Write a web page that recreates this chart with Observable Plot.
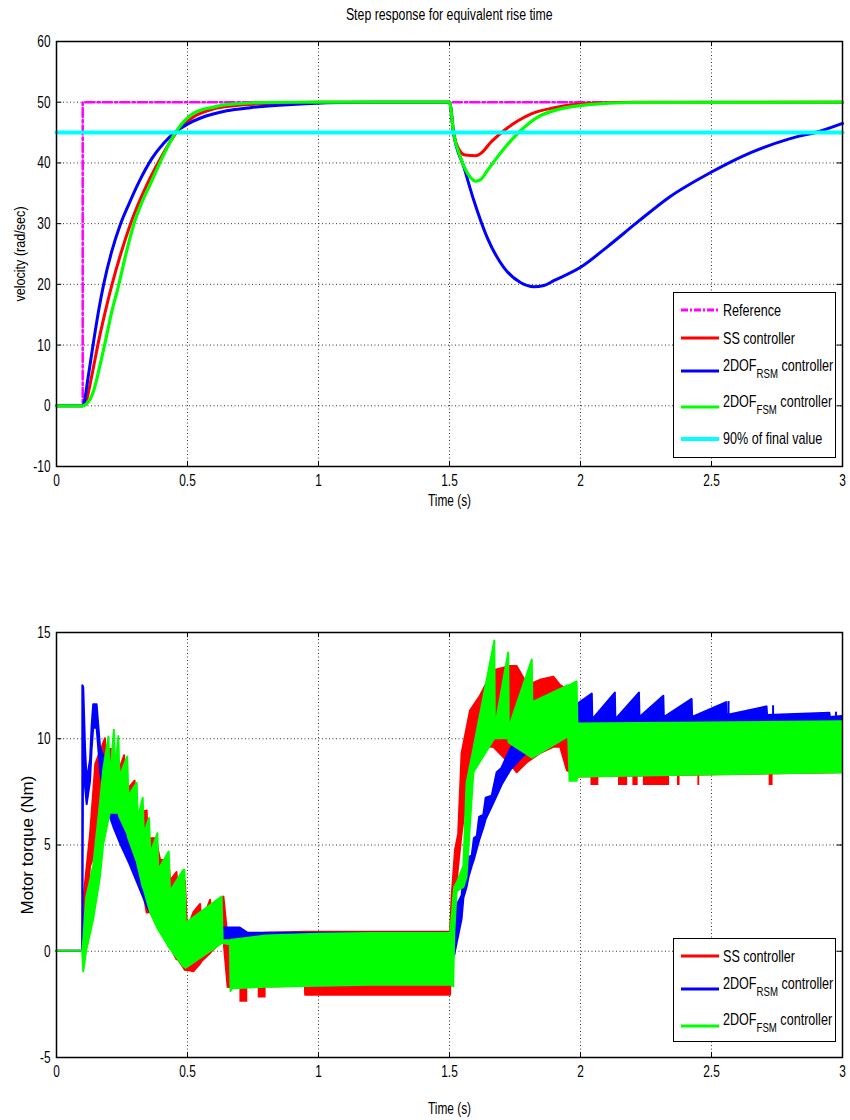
<!DOCTYPE html>
<html><head><meta charset="utf-8">
<script src="https://cdn.jsdelivr.net/npm/d3@7"></script>
<script src="https://cdn.jsdelivr.net/npm/@observablehq/plot@0.6"></script>
<style>
body{margin:0;background:#fff;}
#root{position:relative;width:850px;height:1120px;overflow:hidden;font-family:"Liberation Sans",Arial,sans-serif;}
.ttl{position:absolute;left:0;width:898px;text-align:center;font-size:16px;line-height:16px;}
.ttl span{display:inline-block;transform:scaleX(0.77);transform-origin:center;}
.legend{position:absolute;border:1.5px solid #000;background:#fff;box-sizing:border-box;}
.li{position:absolute;font-size:17px;white-space:nowrap;line-height:17px;transform:scaleX(0.74);transform-origin:left center;}
.li sub{font-size:13px;vertical-align:-7px;line-height:0;}
.sw{position:absolute;}
</style></head><body><div id="root"></div>
<script>
const FONT = '"Liberation Sans",Arial,sans-serif';

// ---------- shared ticks ----------
const timeTicks = [0, 0.5, 1, 1.5, 2, 2.5, 3];
const velocityTicks = [-10, 0, 10, 20, 30, 40, 50, 60];
const torqueTicks = [-5, 0, 5, 10, 15];

// ---------- top panel: velocity (t, rad/sec) ----------
const referenceVel = [[0,0],[0.1,0],[0.1,50],[3,50]];
const finalValue90 = [[0,45],[3,45]];
const ssVel = [[0,0],[0.1,0],[0.114,0.9],[0.135,5],[0.161,10.7],[0.185,15.3],[0.212,20],[0.245,25],[0.282,29.9],[0.346,36.5],[0.39,40.2],[0.42,42.5],[0.454,44.8],[0.524,47.6],[0.6,48.9],[0.676,49.4],[0.8,49.8],[1.0,50],[1.5,50],[1.516,44.8],[1.535,42.3],[1.56,41.3],[1.6,41.2],[1.62,41.6],[1.66,43.5],[1.707,45.3],[1.76,46.9],[1.81,48.05],[1.9,49.1],[2.0,49.7],[2.2,50],[3,50]];
const rsmVel = [[0,0],[0.1,0],[0.104,0.3],[0.12,4.5],[0.142,10.7],[0.16,15.5],[0.18,20],[0.21,25.3],[0.244,29.9],[0.28,33.6],[0.314,36.8],[0.365,40.8],[0.41,43.3],[0.454,45.1],[0.5,46.4],[0.55,47.4],[0.65,48.6],[0.74,49.1],[0.85,49.5],[0.95,49.75],[1.1,49.95],[1.5,50],[1.516,44.8],[1.555,39.3],[1.593,33.8],[1.644,27.7],[1.707,22.8],[1.771,20.3],[1.822,19.6],[1.86,19.8],[1.898,20.6],[2.0,22.8],[2.1,26.1],[2.216,30.2],[2.34,34.4],[2.5,38.5],[2.65,41.7],[2.8,44.0],[2.92,45.3],[3.0,46.5]];
const fsmVel = [[0,0],[0.1,0],[0.114,0.3],[0.13,1.2],[0.142,2.5],[0.165,6.5],[0.187,10.7],[0.21,15.3],[0.238,20],[0.265,25],[0.295,29.9],[0.325,33.4],[0.359,36.6],[0.403,40.8],[0.454,45.0],[0.524,48.2],[0.6,49.2],[0.65,49.6],[0.8,49.95],[1.0,50],[1.5,50],[1.516,44.8],[1.542,40.9],[1.58,37.6],[1.6,37.0],[1.62,37.3],[1.644,38.7],[1.707,42.3],[1.771,45.3],[1.835,47.5],[1.924,48.9],[2.03,49.6],[2.2,49.95],[3,50]];

// ---------- bottom panel: torque bands (t, low, high) in Nm ----------
const ssTorque = [[0,0,0],[0.1,0,0],[0.104,0,2.4],[0.13,4.0,5.5],[0.15,4.6,8.8],[0.187,5.5,10.0],[0.19,6.0,8.5],[0.206,6.8,9.5],[0.22,6.5,9.5],[0.225,6.3,8.0],[0.26,6.0,9.2],[0.265,5.8,7.5],[0.3,5.2,8.0],[0.305,4.8,6.5],[0.346,1.8,6.6],[0.35,1.8,5.3],[0.38,2.0,5.3],[0.397,1.9,4.3],[0.43,0.2,4.2],[0.435,0.2,3.3],[0.46,-0.4,3.7],[0.465,-0.4,2.6],[0.492,-0.9,3.3],[0.5,-0.9,1.0],[0.524,-0.97,1.8],[0.55,-0.6,2.2],[0.555,-0.5,1.3],[0.588,-0.11,2.4],[0.595,0.0,1.5],[0.639,0.52,2.55],[0.655,-1.7,0.6],[0.7,-1.7,0.75],[0.8,-1.68,0.85],[0.95,-1.65,0.9],[0.951,-2.07,0.9],[1.504,-2.07,0.9],[1.51,0.83,2.55],[1.523,2.4,4.75],[1.535,4.0,5.5],[1.548,5.5,9.3],[1.58,8.5,11.3],[1.618,9.6,12.0],[1.669,9.6,13.2],[1.733,8.8,13.4],[1.758,8.4,13.4],[1.8,8.9,12.5],[1.847,9.3,12.75],[1.898,9.6,12.9],[1.924,9.6,12.5],[1.95,8.5,12.3],[1.987,8.2,11.0],[2.0,8.2,10.95],[3.0,8.4,10.95]];
const ssSpikes = [[0.70,0.73,-2.4,-1.6],[0.77,0.80,-2.2,-1.6],[2.04,2.07,7.8,8.4],[2.145,2.18,7.8,8.4],[2.2,2.22,7.8,8.4],[2.24,2.34,7.8,8.4],[2.37,2.38,7.8,8.4],[2.448,2.455,7.8,8.4],[2.72,2.735,7.8,8.4]];
const rsmTorque = [[0,0,0],[0.1,0,0],[0.1005,0,12.5],[0.104,11.0,12.4],[0.111,7.7,9.5],[0.117,6.9,8.0],[0.13,8.0,9.0],[0.136,9.5,10.6],[0.142,10.5,11.6],[0.155,10.5,11.6],[0.168,8.5,9.6],[0.18,7.5,9.2],[0.2,6.5,8.5],[0.22,5.8,7.5],[0.25,4.9,6.5],[0.28,4.1,5.5],[0.32,2.9,4.5],[0.35,2.0,3.5],[0.4,1.0,2.5],[0.45,0.8,1.8],[0.5,0.7,1.3],[0.6,0.6,1.1],[0.7,0.5,1.1],[0.73,0.3,0.85],[1.0,0.2,0.85],[1.5,0.2,0.85],[1.52,-0.2,0.6],[1.523,0.0,2.0],[1.548,1.5,2.6],[1.555,2.5,3.5],[1.567,3.0,3.7],[1.575,3.5,4.4],[1.587,4.0,4.5],[1.595,4.3,5.3],[1.606,4.8,5.4],[1.615,5.2,6.3],[1.631,5.8,6.4],[1.64,6.2,7.2],[1.663,6.8,7.3],[1.682,7.3,8.4],[1.7,7.8,8.6],[1.733,8.5,9.5],[1.77,9.0,10.0],[1.81,9.5,10.5],[1.885,10.0,11.0],[1.95,10.3,11.5],[1.987,10.5,11.6],[2.045,10.6,12.1],[2.047,10.6,10.9],[2.133,10.6,12.15],[2.135,10.6,10.9],[2.225,10.6,12.15],[2.227,10.6,11.0],[2.318,10.6,12.0],[2.32,10.6,11.0],[2.426,10.6,11.85],[2.428,10.6,11.0],[2.558,10.6,11.7],[2.56,10.6,11.1],[2.712,10.6,11.5],[2.714,10.6,11.1],[2.952,10.6,11.2],[2.954,10.6,11.0],[3.0,10.6,11.05]];
const rsmSpikes = [[2.565,11.0,11.75],[2.735,11.0,11.55],[2.975,11.0,11.25]];
const fsmTorque = [[0,0,0],[0.1,0,0],[0.104,-0.97,0.5],[0.115,0.0,2.5],[0.142,1.5,4.0],[0.168,3.5,7.0],[0.18,5.0,8.5],[0.2,6.2,10.08],[0.205,6.5,8.0],[0.221,6.5,10.4],[0.225,6.5,8.5],[0.238,6.5,10.1],[0.242,6.3,8.2],[0.272,5.5,9.14],[0.276,5.3,7.3],[0.308,4.2,7.9],[0.312,4.0,6.2],[0.331,3.0,7.2],[0.335,2.9,5.5],[0.355,2.0,6.24],[0.36,1.8,4.6],[0.387,1.07,5.53],[0.39,1.0,3.8],[0.43,0.2,4.67],[0.435,0.1,2.8],[0.486,-0.74,3.81],[0.49,-0.75,3.8],[0.495,-0.8,1.3],[0.632,0.36,2.55],[0.636,0.36,0.5],[0.664,0.3,0.5],[0.666,-1.9,0.5],[0.67,-1.76,0.52],[0.8,-1.7,0.72],[1.0,-1.65,0.8],[1.2,-1.6,0.83],[1.505,-1.6,0.83],[1.516,-1.68,2.5],[1.52,0.8,3.0],[1.529,2.8,3.2],[1.555,3.0,4.0],[1.567,3.5,7.9],[1.593,8.4,9.5],[1.673,10.0,14.6],[1.675,10.0,10.5],[1.726,10.0,14.04],[1.728,9.8,10.5],[1.816,9.1,13.7],[1.818,9.1,11.7],[1.955,10.1,12.5],[1.96,8.0,12.5],[1.987,8.0,12.67],[1.99,8.2,10.7],[3.0,8.4,10.8]];

const RED = "#ff0000", BLUE = "#0000ff", GREEN = "#00ff00", MAGENTA = "#ff00ff", CYAN = "#00ffff";
const T = d => d[0], V = d => d[1];

function frameMarks(yTicks, yLabel, yLabelOffset, xLabelOffset, yLo, yHi) {
  const ty = (yHi - yLo) * 0.012;
  return [
    Plot.gridX(timeTicks, {stroke: "#000", strokeOpacity: 0.8, strokeDasharray: "1,2.5"}),
    Plot.gridY(yTicks, {stroke: "#000", strokeOpacity: 0.8, strokeDasharray: "1,2.5"}),
    Plot.ruleX(timeTicks, {x: d => d, y1: yLo, y2: yLo + ty, stroke: "#000"}),
    Plot.ruleX(timeTicks, {x: d => d, y1: yHi, y2: yHi - ty, stroke: "#000"}),
    Plot.ruleY(yTicks, {y: d => d, x1: 0, x2: 0.02, stroke: "#000"}),
    Plot.ruleY(yTicks, {y: d => d, x1: 3, x2: 2.98, stroke: "#000"}),
    Plot.axisX(timeTicks, {tickSize: 0, tickPadding: 7, tickFormat: d => String(d), label: "Time (s)", labelAnchor: "center", labelArrow: "none", labelOffset: xLabelOffset}),
    Plot.axisY(yTicks, {tickSize: 0, tickPadding: 6, tickFormat: d => String(d), label: yLabel, labelAnchor: "center", labelArrow: "none", labelOffset: yLabelOffset})
  ];
}

const topPlot = Plot.plot({
  width: 850, height: 486,
  marginTop: 11, marginLeft: 56, marginRight: 8, marginBottom: 50,
  style: {fontFamily: FONT, fontSize: "17px", background: "transparent", color: "#000"},
  x: {domain: [0, 3]},
  y: {domain: [-10, 60]},
  marks: [
    ...frameMarks(velocityTicks, "velocity (rad/sec)", 42, 39, -10, 60),
    Plot.line(referenceVel, {x: T, y: V, stroke: MAGENTA, strokeWidth: 2.5, strokeDasharray: "9,3,2.5,3"}),
    Plot.line(ssVel, {x: T, y: V, stroke: RED, strokeWidth: 3, curve: "monotone-x"}),
    Plot.line(rsmVel, {x: T, y: V, stroke: BLUE, strokeWidth: 3, curve: "monotone-x"}),
    Plot.line(fsmVel, {x: T, y: V, stroke: GREEN, strokeWidth: 3.2, curve: "monotone-x"}),
    Plot.line(finalValue90, {x: T, y: V, stroke: CYAN, strokeWidth: 4}),
    Plot.frame({stroke: "#000", strokeWidth: 1.5})
  ]
});

const bandOpts = (color) => ({x: T, y1: d => d[1], y2: d => d[2], fill: color, stroke: color, strokeWidth: 2, strokeLinejoin: "round"});

const bottomPlot = Plot.plot({
  width: 850, height: 507,
  marginTop: 22, marginLeft: 56, marginRight: 8, marginBottom: 60,
  style: {fontFamily: FONT, fontSize: "17px", background: "transparent", color: "#000"},
  x: {domain: [0, 3]},
  y: {domain: [-5, 15]},
  marks: [
    ...frameMarks(torqueTicks, "Motor torque (Nm)", 36, 56, -5, 15),
    Plot.areaY(ssTorque, bandOpts(RED)),
    Plot.rect(ssSpikes, {x1: d => d[0], x2: d => d[1], y1: d => d[2], y2: d => d[3], fill: RED}),
    Plot.areaY(rsmTorque, bandOpts(BLUE)),
    Plot.ruleX(rsmSpikes, {x: T, y1: d => d[1], y2: d => d[2], stroke: BLUE, strokeWidth: 2}),
    Plot.areaY(fsmTorque, bandOpts(GREEN)),
    Plot.frame({stroke: "#000", strokeWidth: 1.5})
  ]
});

const root = document.getElementById("root");
topPlot.style.position = "absolute"; topPlot.style.left = "0px"; topPlot.style.top = "30px";
bottomPlot.style.position = "absolute"; bottomPlot.style.left = "0px"; bottomPlot.style.top = "610px";
root.appendChild(topPlot);
root.appendChild(bottomPlot);

// narrow, tall lettering like the original figure
function condense(t, sx) {
  const bb = t.getBBox();
  const anchor = getComputedStyle(t).textAnchor;
  const ax = anchor === "end" ? bb.x + bb.width : anchor === "middle" ? bb.x + bb.width / 2 : bb.x;
  const ex = t.getAttribute("transform") || "";
  t.setAttribute("transform", `${ex} translate(${ax},0) scale(${sx},1) translate(${-ax},0)`);
}
[topPlot, bottomPlot].forEach(svg => {
  svg.querySelectorAll("[aria-label='x-axis tick label'] text, [aria-label='y-axis tick label'] text, [aria-label='x-axis label'] text")
    .forEach(t => condense(t, 0.7));
});
topPlot.querySelectorAll("[aria-label='y-axis label'] text").forEach(t => { t.style.fontSize = "15px"; condense(t, 0.84); });
bottomPlot.querySelectorAll("[aria-label='y-axis label'] text").forEach(t => { t.style.fontSize = "17px"; });

const title = document.createElement("div");
title.className = "ttl"; title.style.top = "7px";
title.innerHTML = "<span>Step response for equivalent rise time</span>";
root.appendChild(title);

// ---------- legends ----------
function legend(box, items) {
  const lg = document.createElement("div");
  lg.className = "legend";
  Object.assign(lg.style, {left: box.left + "px", top: box.top + "px", width: box.w + "px", height: box.h + "px"});
  items.forEach(it => {
    const sw = document.createElementNS("http://www.w3.org/2000/svg", "svg");
    sw.setAttribute("class", "sw"); sw.setAttribute("width", 40); sw.setAttribute("height", 8);
    sw.style.left = "6px"; sw.style.top = (it.y - 4) + "px";
    const ln = document.createElementNS("http://www.w3.org/2000/svg", "line");
    ln.setAttribute("x1", 1); ln.setAttribute("x2", 39); ln.setAttribute("y1", 4); ln.setAttribute("y2", 4);
    ln.setAttribute("stroke", it.color); ln.setAttribute("stroke-width", it.w || 3);
    if (it.dash) ln.setAttribute("stroke-dasharray", it.dash);
    sw.appendChild(ln); lg.appendChild(sw);
    const tx = document.createElement("div");
    tx.className = "li"; tx.style.left = "49px"; tx.style.top = (it.ty - 9) + "px";
    tx.innerHTML = it.html;
    lg.appendChild(tx);
  });
  root.appendChild(lg);
}
legend({left: 673, top: 292, w: 163, h: 166}, [
  {color: MAGENTA, dash: "7,2,2,2", y: 17, ty: 18, html: "Reference"},
  {color: RED, y: 45, ty: 46, html: "SS controller"},
  {color: BLUE, y: 78, ty: 73, html: "2DOF<sub>RSM</sub> controller"},
  {color: GREEN, y: 114, ty: 109, html: "2DOF<sub>FSM</sub> controller"},
  {color: CYAN, y: 146, ty: 146, w: 4, html: "90% of final value"}
]);
legend({left: 673, top: 938, w: 163, h: 104}, [
  {color: RED, y: 17, ty: 18, html: "SS controller"},
  {color: BLUE, y: 50, ty: 45, html: "2DOF<sub>RSM</sub> controller"},
  {color: GREEN, y: 87, ty: 81, html: "2DOF<sub>FSM</sub> controller"}
]);
</script></body></html>
